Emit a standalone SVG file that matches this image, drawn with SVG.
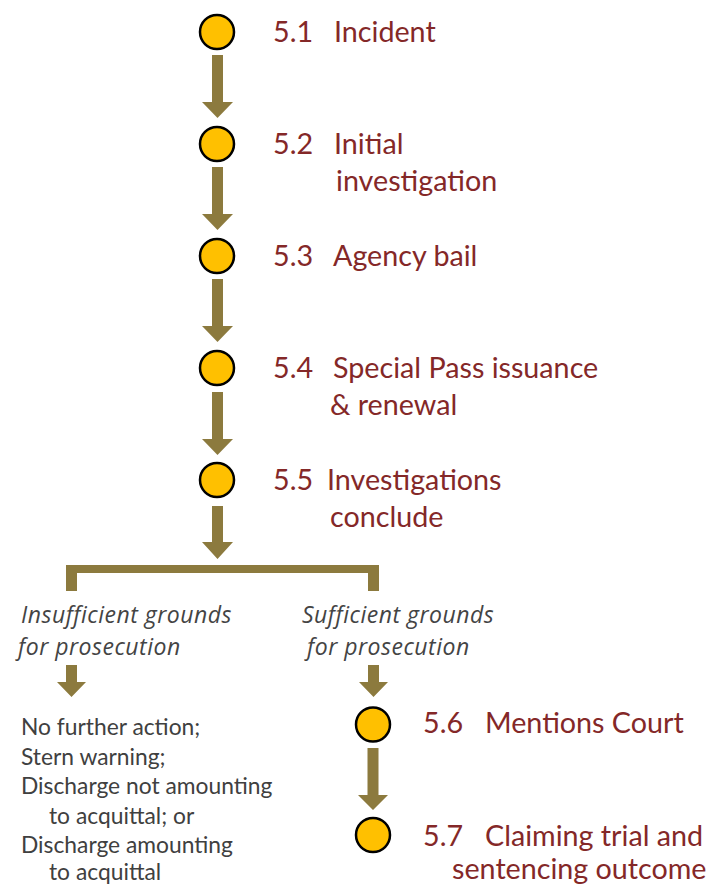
<svg xmlns="http://www.w3.org/2000/svg" width="709" height="886" viewBox="0 0 709 886">
<style>
.bg{fill:#ffffff}
.dot{fill:#FFC000;stroke:#000000;stroke-width:2.5}
.arr{fill:#8C7A3E}
.t{font-family:Lato,"Noto Sans",sans-serif;font-size:28.7px;fill:#842828}
.i{font-family:"Open Sans","Noto Sans",sans-serif;font-size:23px;font-style:italic;letter-spacing:0.5px;fill:#444444}
.n{font-family:Lato,"Noto Sans",sans-serif;font-size:22.8px;fill:#404040}
</style>
<rect class="bg" x="0" y="0" width="709" height="886"/>
<g id="connectors">
<path class="arr" d="M212,55 H223 V102 H233 L217.5,118 L202,102 H212 Z"/>
<path class="arr" d="M212,167 H223 V214 H233 L217.5,230 L202,214 H212 Z"/>
<path class="arr" d="M212,279 H223 V326 H233 L217.5,342 L202,326 H212 Z"/>
<path class="arr" d="M212,392 H223 V439 H233 L217.5,455 L202,439 H212 Z"/>
<path class="arr" d="M212,506 H223 V542 H233 L217.5,559 L202,542 H212 Z"/>
<path class="arr" d="M66,591 V565 H379 V591 H368 V573 H77 V591 Z"/>
<path class="arr" d="M66,665 H77 V682 H86 L71.5,697 L57,682 H66 Z"/>
<path class="arr" d="M368,665 H379 V682 H388 L373.5,697 L359,682 H368 Z"/>
<path class="arr" d="M367.5,748 H378.5 V795 H388 L373,810 L358,795 H367.5 Z"/>
</g>
<g id="n51">
<circle class="dot" cx="217" cy="32" r="17"/>
<text class="t" x="273" y="42">5.1</text>
<text class="t" x="334" y="42">Incident</text>
</g>
<g id="n52">
<circle class="dot" cx="217" cy="144" r="17"/>
<text class="t" x="273" y="154">5.2</text>
<text class="t" x="334" y="154">Initial</text>
<text class="t" x="336" y="191">investigation</text>
</g>
<g id="n53">
<circle class="dot" cx="217" cy="256" r="17"/>
<text class="t" x="273" y="266">5.3</text>
<text class="t" x="333" y="266">Agency bail</text>
</g>
<g id="n54">
<circle class="dot" cx="217" cy="368" r="17"/>
<text class="t" x="273" y="378">5.4</text>
<text class="t" x="333" y="378">Special Pass issuance</text>
<text class="t" x="330" y="415">&amp; renewal</text>
</g>
<g id="n55">
<circle class="dot" cx="217" cy="480" r="17"/>
<text class="t" x="273" y="490">5.5</text>
<text class="t" x="327" y="490">Investigations</text>
<text class="t" x="330" y="527">conclude</text>
</g>
<g id="branch-insufficient">
<text class="i" x="21" y="623">Insufficient grounds</text>
<text class="i" x="18" y="655">for prosecution</text>
</g>
<g id="branch-sufficient">
<text class="i" x="302" y="623">Sufficient grounds</text>
<text class="i" x="307" y="655">for prosecution</text>
</g>
<g id="outcomes">
<text class="n" x="21" y="735">No further action;</text>
<text class="n" x="21" y="764.5">Stern warning;</text>
<text class="n" x="21" y="794">Discharge not amounting</text>
<text class="n" x="49" y="823.5">to acquittal; or</text>
<text class="n" x="21" y="853">Discharge amounting</text>
<text class="n" x="49" y="880">to acquittal</text>
</g>
<g id="n56">
<circle class="dot" cx="373" cy="724.5" r="17"/>
<text class="t" x="423" y="733">5.6</text>
<text class="t" x="485" y="733">Mentions Court</text>
</g>
<g id="n57">
<circle class="dot" cx="373" cy="835" r="17"/>
<text class="t" x="423" y="846">5.7</text>
<text class="t" x="485" y="846">Claiming trial and</text>
<text class="t" x="452" y="879">sentencing outcome</text>
</g>
</svg>
